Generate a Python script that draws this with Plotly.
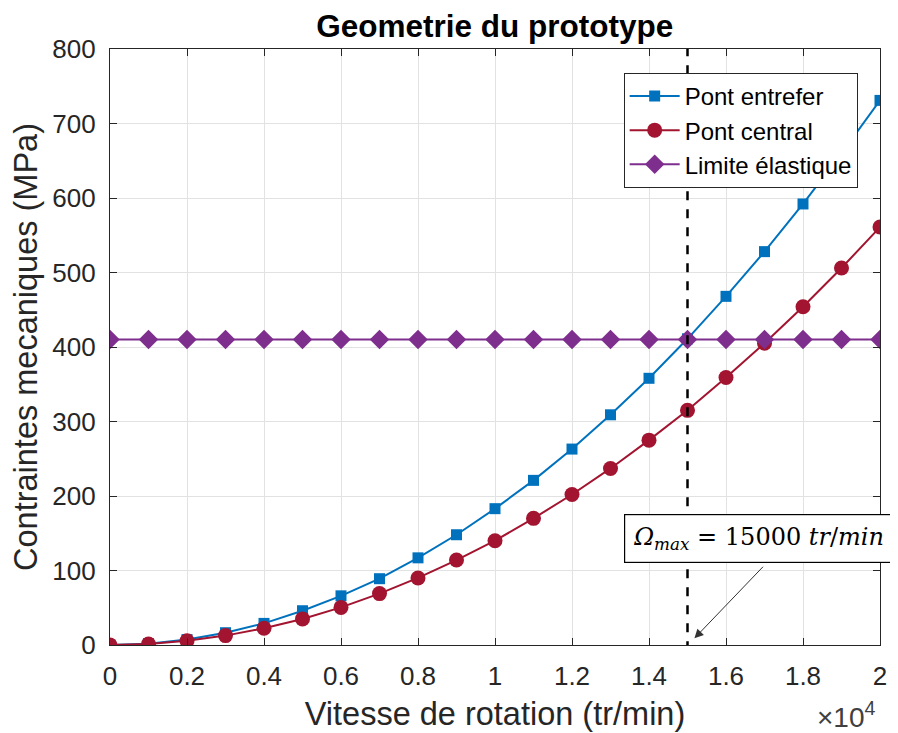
import plotly.graph_objects as go

speed = [0, 1000, 2000, 3000, 4000, 5000, 6000, 7000, 8000, 9000, 10000,
         11000, 12000, 13000, 14000, 15000, 16000, 17000, 18000, 19000, 20000]
pont_entrefer = [0, 1.8, 7.3, 16.5, 29, 46, 66, 89, 117, 148, 183,
                 221, 263, 309, 358, 411, 468, 528, 592, 660, 731]
pont_central = [0, 1.4, 5.6, 12.6, 22.4, 35, 50.5, 69, 90, 114, 140,
                170, 202, 237, 275, 315, 359, 405, 454, 506, 561]
limite = [410] * 21
omega_max = 15000

xtick_vals = [0, 2000, 4000, 6000, 8000, 10000, 12000, 14000, 16000, 18000, 20000]
xtick_text = ["0", "0.2", "0.4", "0.6", "0.8", "1", "1.2", "1.4", "1.6", "1.8", "2"]
ytick_vals = [0, 100, 200, 300, 400, 500, 600, 700, 800]

FONT = "Liberation Sans, Arial, sans-serif"
DARK = "#262626"

fig = go.Figure()
fig.add_trace(go.Scatter(x=speed, y=pont_entrefer, name="Pont entrefer", mode="lines+markers",
                         line=dict(color="#0072BD", width=2),
                         marker=dict(symbol="square", size=11, color="#0072BD")))
fig.add_trace(go.Scatter(x=speed, y=pont_central, name="Pont central", mode="lines+markers",
                         line=dict(color="#A2142F", width=2),
                         marker=dict(symbol="circle", size=15, color="#A2142F")))
fig.add_trace(go.Scatter(x=speed, y=limite, name="Limite élastique", mode="lines+markers",
                         line=dict(color="#7E2F8E", width=2),
                         marker=dict(symbol="diamond", size=15, color="#7E2F8E")))

fig.add_shape(type="line", x0=omega_max, x1=omega_max, y0=-7, y1=800, xref="x", yref="y",
              line=dict(color="black", width=2.5, dash="dash"), layer="above")

# arrow
fig.add_annotation(x=omega_max + 180, y=9, xref="x", yref="y", text="",
                   showarrow=True, arrowhead=2, arrowsize=1.8, arrowwidth=1, arrowcolor="#333",
                   ax=70, ay=-73, axref="pixel", ayref="pixel")
# boxed label
fig.add_annotation(x=0.842, y=0.178, xref="paper", yref="paper", xanchor="center", yanchor="middle",
                   text="<i>Ω</i><sub><i>max</i></sub> = 15000 <i>tr</i>/<i>min</i>",
                   showarrow=False,
                   font=dict(family="DejaVu Serif, Liberation Serif, serif", size=24, color="black"),
                   bordercolor="black", borderwidth=1.2, borderpad=8, bgcolor="white")

fig.add_annotation(x=0.997, y=-0.084, xref="paper", yref="paper", xanchor="right", yanchor="top",
                   text="×10<sup>4</sup>", showarrow=False,
                   font=dict(family=FONT, size=28, color="#404040"))

axis_common = dict(showgrid=True, gridcolor="#e2e2e2", gridwidth=1, showline=True,
                   linecolor=DARK, linewidth=1.3, mirror="ticks", ticks="inside",
                   ticklen=7, tickcolor=DARK, zeroline=False, automargin=False,
                   ticklabelstandoff=8,
                   tickfont=dict(family=FONT, size=26, color=DARK))

fig.update_xaxes(range=[0, 20000], tickvals=xtick_vals, ticktext=xtick_text,
                 title=dict(text="Vitesse de rotation (tr/min)", standoff=11,
                            font=dict(family=FONT, size=32.5, color=DARK)),
                 **axis_common)
fig.update_yaxes(range=[0, 800], tickvals=ytick_vals,
                 title=dict(text="Contraintes mecaniques (MPa)", standoff=14,
                            font=dict(family=FONT, size=32.5, color=DARK)),
                 **axis_common)

# page body adds an 8px offset; margins compensate so the axes land at x 110-880, y 49-645
fig.update_layout(
    width=898, height=733,
    margin=dict(l=102, r=26, t=41, b=96),
    paper_bgcolor="white", plot_bgcolor="white",
    title=dict(text="<b>Geometrie du prototype</b>", x=0.542, xanchor="center",
               y=0.991, yanchor="top",
               font=dict(family=FONT, size=31.5, color="black")),
    legend=dict(x=0.971, y=0.960, xanchor="right", yanchor="top",
                bgcolor="white", bordercolor=DARK, borderwidth=1,
                font=dict(family=FONT, size=24, color="black"), itemwidth=50,
                tracegroupgap=0),
    showlegend=True,
)

fig.write_html("out.html")
